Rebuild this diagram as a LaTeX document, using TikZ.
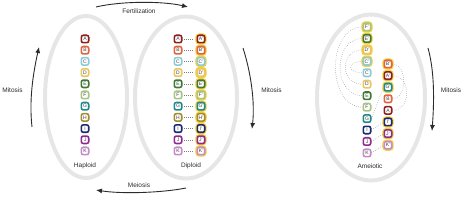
\documentclass[tikz,border=0pt]{standalone}
\usepackage{fontspec}
\setmainfont{Liberation Sans}
\usetikzlibrary{arrows.meta, positioning}

\definecolor{chrA}{HTML}{8E1F1F}
\definecolor{chrB}{HTML}{E2643C}
\definecolor{chrC}{HTML}{8CCBD6}
\definecolor{chrD}{HTML}{EBC55E}
\definecolor{chrE}{HTML}{3E7A34}
\definecolor{chrF}{HTML}{A7C483}
\definecolor{chrG}{HTML}{1E8A8C}
\definecolor{chrH}{HTML}{A38B2E}
\definecolor{chrI}{HTML}{1D2A6E}
\definecolor{chrJ}{HTML}{8E2C8E}
\definecolor{chrK}{HTML}{C58CC7}
\definecolor{homring}{HTML}{F4D03F}
\definecolor{cellgray}{HTML}{E6E6E6}
\definecolor{inkgray}{HTML}{2B2B2B}

\begin{document}
\begin{tikzpicture}[x=1pt, y=-1pt,
    cell/.style={draw=cellgray, line width=4pt},
    chrom/.style={draw=#1, fill=white, line width=1.6pt, rounded corners=2pt,
      minimum size=7.4pt, inner sep=0pt, font=\fontsize{5}{5}\selectfont, text=black!75},
    homolog/.style={chrom=#1, preaction={draw=homring, line width=3.8pt}},
    celltext/.style={font=\fontsize{6.5}{7}\selectfont, text=inkgray},
    phase/.style={-{Latex[length=6pt,width=5pt]}, line width=0.9pt, draw=inkgray},
    linkdots/.style={draw=gray, line width=0.5pt, dash pattern=on 0.5pt off 1.6pt}]
    \useasboundingbox (0,0) rectangle (464,200);

    % cells
    \draw[cell] (86,97) ellipse [x radius=41pt, y radius=81pt];
    \draw[cell] (186,97.5) ellipse [x radius=51pt, y radius=81pt];
    \draw[cell] (371,97.5) ellipse [x radius=54pt, y radius=83pt];

    % haploid
    \foreach \l [count=\i] in {A,B,C,D,E,F,G,H,I,J,K}
      \node[chrom=chr\l] (h\l) at (85, 27.8+11.2*\i) {\l};
    \node[celltext] (haploid) at (85,166) {Haploid};

    % diploid
    \foreach \l [count=\i] in {A,B,C,D,E,F,G,H,I,J,K} {
      \node[chrom=chr\l] (d\l) at (178, 27.8+11.2*\i) {\l};
      \node[homolog=chr\l] (dp\l) at (201, 27.8+11.2*\i) {\l'};
      \draw[linkdots] ([xshift=1.5pt]d\l.east) -- ([xshift=-2pt]dp\l.west);
    }
    \node[celltext] (diploid) at (191,166) {Diploid};

    % ameiotic
    \foreach \l [count=\i] in {F,E,D,C}
      \node[homolog=chr\l] (ap\l) at (367, 15.55+11.45*\i) {\l'};
    \foreach \l [count=\i from 5] in {C,D,E,F,G,I,J,K}
      \node[chrom=chr\l] (a\l) at (367, 15.55+11.45*\i) {\l};
    \node[homolog=chrB] (apB) at (388,64) {B'};
    \node[homolog=chrA] (apA) at (388,75.6) {A'};
    \node[homolog=chrG] (apG) at (388,87.2) {G'};
    \node[chrom=chrB] (aB) at (388,98.8) {B};
    \node[chrom=chrA] (aA) at (388,110.4) {A};
    \node[homolog=chrI] (apI) at (388,122) {I'};
    \node[homolog=chrJ] (apJ) at (388,133.6) {J'};
    \node[homolog=chrK] (apK) at (388,145.2) {K'};
    \node[celltext] (ameiotic) at (370,166) {Ameiotic};

    \draw[linkdots] (apF.west) .. controls +(-36,0) and +(-36,0) .. (aF.west);
    \draw[linkdots] (apE.west) .. controls +(-30,0) and +(-30,0) .. (aE.west);
    \draw[linkdots] (apD.west) .. controls +(-23,0) and +(-23,0) .. (aD.west);
    \draw[linkdots] (apC.west) .. controls +(-16,0) and +(-16,0) .. (aC.west);
    \draw[linkdots] (apB.east) .. controls +(15,0) and +(15,0) .. (aB.east);
    \draw[linkdots] (apA.east) .. controls +(19,0) and +(19,0) .. (aA.east);
    \draw[linkdots] (aG.east) -- (apG.west);
    \draw[linkdots] (aI.east) -- (apI.west);
    \draw[linkdots] (aJ.east) -- (apJ.west);
    \draw[linkdots] (aK.east) -- (apK.west);

    % cycle arrows
    \coordinate (fertS) at (96,7);
    \coordinate (fertE) at (188,7);
    \draw[phase] (fertS) .. controls +(25,-6) and +(-25,-6) .. (fertE);
    \node[celltext] (fert) at (139,11) {Fertilization};

    \coordinate (meioS) at (186,188);
    \coordinate (meioE) at (96,190);
    \draw[phase] (meioS) .. controls +(-25,5) and +(25,4) .. (meioE);
    \node[celltext] (meio) at (139,185) {Meiosis};

    \coordinate (mitLS) at (32,127);
    \coordinate (mitLE) at (39,47);
    \draw[phase] (mitLS) .. controls +(-3,-27) and +(-6,27) .. (mitLE);
    \node[celltext] (mitL) at (12.5,90) {Mitosis};

    \coordinate (mitMS) at (243,48);
    \coordinate (mitME) at (252,129);
    \draw[phase] (mitMS) .. controls +(8,25) and +(3,-27) .. (mitME);
    \node[celltext] (mitM) at (271.5,90) {Mitosis};

    \coordinate (mitRS) at (428,48);
    \coordinate (mitRE) at (432,131);
    \draw[phase] (mitRS) .. controls +(7,25) and +(2,-27) .. (mitRE);
    \node[celltext] (mitR) at (451,90) {Mitosis};
  \end{tikzpicture}
\end{document}
